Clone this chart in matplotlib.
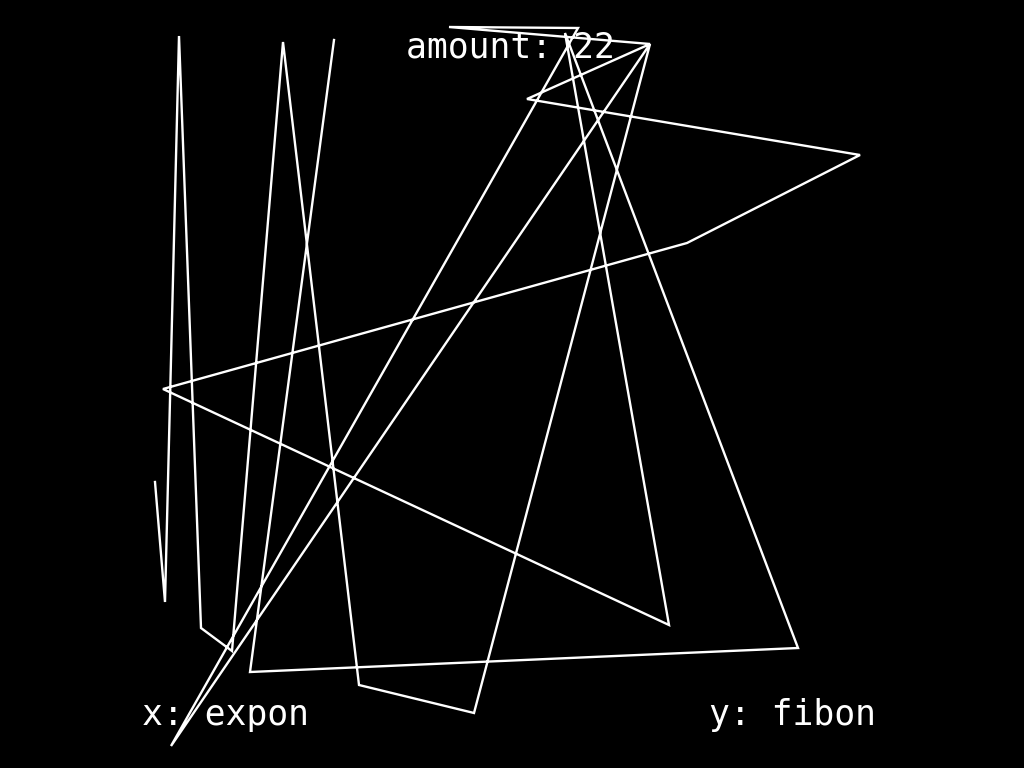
import matplotlib
matplotlib.use("Agg")
import matplotlib.pyplot as plt

# Path vertices (x: "expon", y: "fibon"), in screen units
x_vals = [155, 165, 179, 201, 232, 283, 359, 474, 650, 171, 578, 449,
          650, 527, 860, 687, 163, 669, 565, 798, 250, 334]
y_vals = [482, 602, 36, 628, 651, 42, 685, 713, 44, 746, 28, 27,
          44, 99, 155, 243, 389, 625, 33, 648, 672, 40]

title_text = "amount: 22"
x_label = "x: expon"
y_label = "y: fibon"

fig = plt.figure(figsize=(10.24, 7.68), dpi=100, facecolor="black")
ax = fig.add_axes([0, 0, 1, 1])
ax.set_facecolor("black")
ax.set_xlim(0, 1024)
ax.set_ylim(768, 0)
ax.axis("off")

ax.plot(x_vals, y_vals, color="white", linewidth=1.7, solid_joinstyle="miter")

font = dict(family="DejaVu Sans Mono", color="white", fontsize=25)
ax.text(406, 58, title_text, ha="left", va="baseline", **font)
ax.text(142, 725, x_label, ha="left", va="baseline", **font)
ax.text(709, 725, y_label, ha="left", va="baseline", **font)

fig.savefig("out.png", dpi=100, facecolor="black")
